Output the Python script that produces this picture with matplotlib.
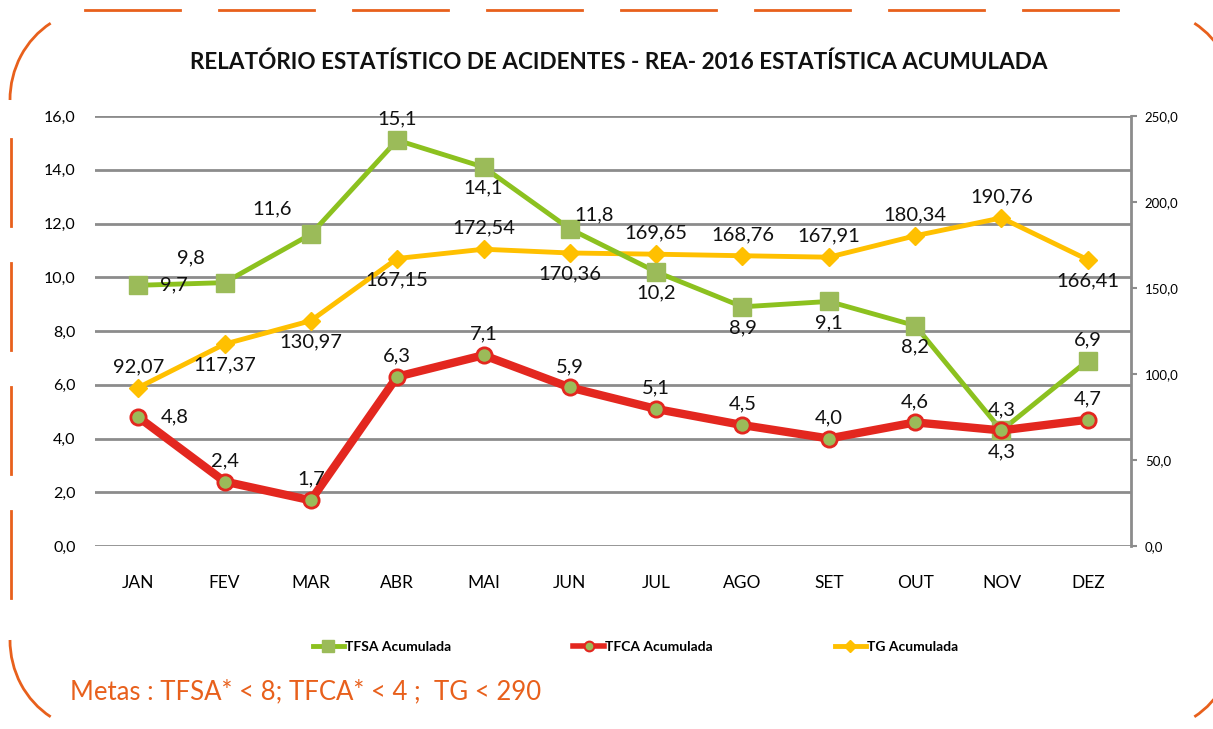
import numpy as np
import matplotlib.pyplot as plt
from matplotlib.patches import Arc
from matplotlib.lines import Line2D

plt.rcParams['font.family'] = ['Lato', 'DejaVu Sans']

months = ['JAN', 'FEV', 'MAR', 'ABR', 'MAI', 'JUN', 'JUL', 'AGO', 'SET', 'OUT', 'NOV', 'DEZ']
tfsa = [9.7, 9.8, 11.6, 15.1, 14.1, 11.8, 10.2, 8.9, 9.1, 8.2, 4.3, 6.9]
tfca = [4.8, 2.4, 1.7, 6.3, 7.1, 5.9, 5.1, 4.5, 4.0, 4.6, 4.3, 4.7]
tg = [92.07, 117.37, 130.97, 167.15, 172.54, 170.36, 169.65, 168.76, 167.91, 180.34, 190.76, 166.41]

# label placement per point
tfsa_pos = ['r', 'ul', 'ul', 'u', 'd', 'ur', 'd', 'd', 'd', 'd', 'd', 'u']
tfca_pos = ['r', 'u', 'u', 'u', 'u', 'u', 'u', 'u', 'u', 'u', 'u', 'u']
tg_pos = ['u', 'd', 'd', 'd', 'u', 'd', 'u', 'u', 'u', 'u', 'u', 'd']

GREEN = '#8cc11f'
GREEN_MK = '#9bbb59'
RED = '#e3271f'
GOLD = '#ffc000'
GRID = '#8c8c8c'
ORANGE = '#e8601c'

offsets = {'r': (16, 0, 'left', 'center'), 'u': (0, 9, 'center', 'bottom'),
           'd': (0, -9, 'center', 'top'), 'ul': (-14, 12, 'right', 'bottom'),
           'ur': (3, 4, 'left', 'bottom')}


def fmt(v, nd):
    return f'{v:.{nd}f}'.replace('.', ',')


def annotate(ax, xs, ys, pos, nd):
    for x, y, p in zip(xs, ys, pos):
        dx, dy, ha, va = offsets[p]
        ax.annotate(fmt(y, nd), (x, y), xytext=(dx, dy), textcoords='offset points',
                    ha=ha, va=va, fontsize=14.5, color='#111111', zorder=10)


fig = plt.figure(figsize=(12.13, 7.29), dpi=100)

# decorative frame
deco = fig.add_axes([0, 0, 1, 1], zorder=0)
deco.set_xlim(0, 1213)
deco.set_ylim(729, 0)
deco.axis('off')
for x0 in range(85, 1130, 134):
    deco.plot([x0, x0 + 95], [10, 10], color=ORANGE, lw=2)
for y0 in range(139, 620, 124):
    deco.plot([11, 11], [y0, y0 + 87], color=ORANGE, lw=2)
deco.add_patch(Arc((95, 100), 170, 180, theta1=180, theta2=240, color=ORANGE, lw=2))
deco.add_patch(Arc((95, 640), 170, 180, theta1=120, theta2=180, color=ORANGE, lw=2))
deco.add_patch(Arc((1150, 100), 170, 180, theta1=300, theta2=360, color=ORANGE, lw=2))
deco.add_patch(Arc((1150, 640), 170, 180, theta1=0, theta2=60, color=ORANGE, lw=2))

ax = fig.add_axes([95 / 1213, 1 - 546 / 729, (1131 - 95) / 1213, 430 / 729], zorder=2)
ax.patch.set_alpha(0)
ax2 = ax.twinx()
x = np.arange(len(months))

ax.set_ylim(0, 16)
ax.set_xlim(-0.5, 11.5)
ax.set_yticks(np.arange(0, 17, 2))
ax.set_yticklabels([fmt(v, 1) for v in np.arange(0, 17, 2)], fontsize=11.5)
ax.set_xticks(x)
ax.set_xticklabels(months, fontsize=12.5)
ax.tick_params(axis='y', length=0, pad=14)
ax.tick_params(axis='x', length=0, pad=21)
for s in ['top', 'right', 'left', 'bottom']:
    ax.spines[s].set_visible(False)
ax.grid(axis='y', color=GRID, lw=2)
ax.set_axisbelow(True)

ax2.set_ylim(0, 250)
ax2.set_yticks(np.arange(0, 251, 50))
ax2.set_yticklabels([fmt(v, 1) for v in np.arange(0, 251, 50)], fontsize=9.5)
ax2.tick_params(axis='y', length=4, width=1.5, color=GRID, pad=6)
for s in ['top', 'left', 'bottom']:
    ax2.spines[s].set_visible(False)
ax2.spines['right'].set_color(GRID)
ax2.spines['right'].set_linewidth(2)

ax2.plot(x, tg, color=GOLD, lw=3.5, marker='D', ms=9, mfc=GOLD, mec=GOLD, zorder=3)
annotate(ax2, x, tg, tg_pos, 2)

ax3 = ax.twinx()
ax3.set_ylim(0, 16)
ax3.axis('off')
ax3.plot(x, tfsa, color=GREEN, lw=3.5, marker='s', ms=13, mfc=GREEN_MK, mec=GREEN_MK, zorder=4)
ax3.plot(x, tfca, color=RED, lw=6, marker='o', ms=11, mfc=GREEN_MK, mec=RED, mew=2, zorder=5)
annotate(ax3, x, tfsa, tfsa_pos, 1)
annotate(ax3, x, tfca, tfca_pos, 1)

fig.text(0.510, 0.915, 'RELATÓRIO ESTATÍSTICO DE ACIDENTES - REA- 2016 ESTATÍSTICA ACUMULADA',
         ha='center', va='center', fontsize=16.2, fontweight='bold', color='#111111')

handles = [
    Line2D([], [], color=GREEN, lw=3.5, marker='s', ms=8, mfc=GREEN_MK, mec=GREEN_MK),
    Line2D([], [], color=RED, lw=4, marker='o', ms=7, mfc=GREEN_MK, mec=RED, mew=1.5),
    Line2D([], [], color=GOLD, lw=3.5, marker='D', ms=6, mfc=GOLD, mec=GOLD),
]
fig.legend(handles, ['TFSA Acumulada', 'TFCA Acumulada', 'TG Acumulada'],
           loc='center', bbox_to_anchor=(0.524, 0.112), ncol=3, frameon=False,
           handlelength=2.2, handletextpad=0.1, columnspacing=8.8,
           prop={'weight': 'bold', 'size': 10})

fig.text(70 / 1213, 1 - 692 / 729, 'Metas : TFSA* < 8; TFCA* < 4 ;  TG < 290',
         ha='left', va='center', fontsize=18.5, color=ORANGE)

fig.savefig('out.png', dpi=100)
